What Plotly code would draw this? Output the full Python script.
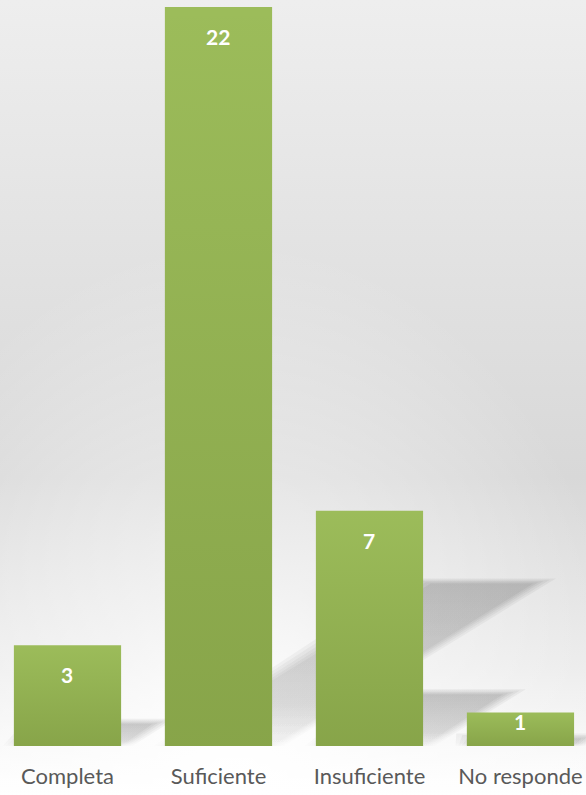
import plotly.graph_objects as go

categories = ["Completa", "Suficiente", "Insuficiente", "No responde"]
values = [3, 22, 7, 1]
value_labels = ["3", "22", "7", "1"]

W, H = 586, 795
M_TOP, M_BOT = 7, 49
HALF = 0.355          # half bar width in category units
SH_X = 0.080          # shadow skew (category units per value unit)
SH_Y = 0.22           # shadow height fraction
XR = [-0.447, 3.434]
YR = [0, 22]

fig = go.Figure()

# background gradient (full figure)
svg = (
    "<svg xmlns='http://www.w3.org/2000/svg' width='586' height='795' preserveAspectRatio='none'>"
    "<defs>"
    "<linearGradient id='g' x1='0' y1='0' x2='0' y2='1'>"
    "<stop offset='0' stop-color='#eeeeee'/>"
    "<stop offset='0.6' stop-color='#d8d8d8'/>"
    "<stop offset='0.84' stop-color='#ebebeb'/>"
    "<stop offset='1' stop-color='#ffffff'/>"
    "</linearGradient>"
    "<radialGradient id='r' cx='0.4' cy='1.0' r='0.7'>"
    "<stop offset='0' stop-color='#ffffff' stop-opacity='1'/>"
    "<stop offset='0.4' stop-color='#ffffff' stop-opacity='0.5'/>"
    "<stop offset='1' stop-color='#ffffff' stop-opacity='0'/>"
    "</radialGradient>"
    "</defs>"
    "<rect width='586' height='795' fill='url(#g)'/>"
    "<rect width='586' height='795' fill='url(#r)'/>"
    "</svg>"
)
enc = svg.replace("#", "%23").replace("<", "%3C").replace(">", "%3E").replace("'", "%27").replace(" ", "%20")
plot_h = H - M_TOP - M_BOT
fig.add_layout_image(
    source="data:image/svg+xml;utf8," + enc,
    xref="paper", yref="paper", x=0, y=1 + M_TOP / plot_h,
    sizex=1, sizey=H / plot_h, sizing="stretch", layer="below",
    xanchor="left", yanchor="top",
)

# shadows (projected from each bar) on the base subplot, drawn underneath; layered for softness
for i, v in enumerate(values):
    for e in [0.075, 0.055, 0.035, 0.017, 0.0]:
        xl, xr = i - HALF - e, i + HALF + e
        dx, dy = SH_X * v, SH_Y * v
        xs = [xl, xr, xr + dx - 0.03 + e, xl + dx - e, xl]
        ys = [0, 0, dy + e * 2, dy + e * 2, 0]
        fig.add_trace(go.Scatter(
            x=xs, y=ys, mode="lines", fill="toself", xaxis="x", yaxis="y",
            line=dict(width=0),
            fillgradient=dict(type="vertical", colorscale=[[0, "rgba(0,0,0,0.008)"], [0.25, "rgba(0,0,0,0.03)"], [1, "rgba(0,0,0,0.048)"]]),
            hoverinfo="skip", showlegend=False,
        ))

# bars on overlaying subplot (above shadows)
fig.add_trace(go.Bar(
    x=list(range(len(categories))), y=values, xaxis="x2", yaxis="y2",
    marker=dict(color="#9cbc5a", line=dict(width=0)),
    width=2 * HALF, hoverinfo="skip", showlegend=False,
))

# bar gradient overlay
for i, v in enumerate(values):
    fig.add_trace(go.Scatter(
        x=[i - HALF, i + HALF, i + HALF, i - HALF, i - HALF],
        y=[0, 0, v, v, 0], mode="lines", fill="toself", line=dict(width=0),
        xaxis="x2", yaxis="y2",
        fillgradient=dict(type="vertical", colorscale=[[0, "rgba(70,90,20,0.24)"], [1, "rgba(70,90,20,0.0)"]]),
        hoverinfo="skip", showlegend=False,
    ))

for i, (v, t) in enumerate(zip(values, value_labels)):
    fig.add_annotation(
        x=i, y=v, xref="x2", yref="y2", text=t, showarrow=False, yanchor="top",
        yshift=-15 if v > 2 else 5,
        font=dict(family="Lato", size=21, color="white", weight="bold"),
    )

fig.update_layout(
    width=W, height=H,
    margin=dict(l=0, r=0, t=M_TOP, b=M_BOT),
    paper_bgcolor="rgba(0,0,0,0)", plot_bgcolor="rgba(0,0,0,0)",
    xaxis=dict(range=XR, tickvals=list(range(len(categories))), ticktext=categories,
               showgrid=False, zeroline=False, showline=False, ticks="",
               tickfont=dict(family="Lato", size=22, color="#595959"), ticklabelstandoff=15),
    yaxis=dict(range=YR, visible=False, showgrid=False),
    xaxis2=dict(range=XR, overlaying="x", visible=False, showgrid=False),
    yaxis2=dict(range=YR, overlaying="y", visible=False, showgrid=False),
    bargap=0.29,
)

fig.write_html("out.html", config={"displayModeBar": False},
               post_script="document.body.style.margin='0';document.body.style.overflow='hidden';")
